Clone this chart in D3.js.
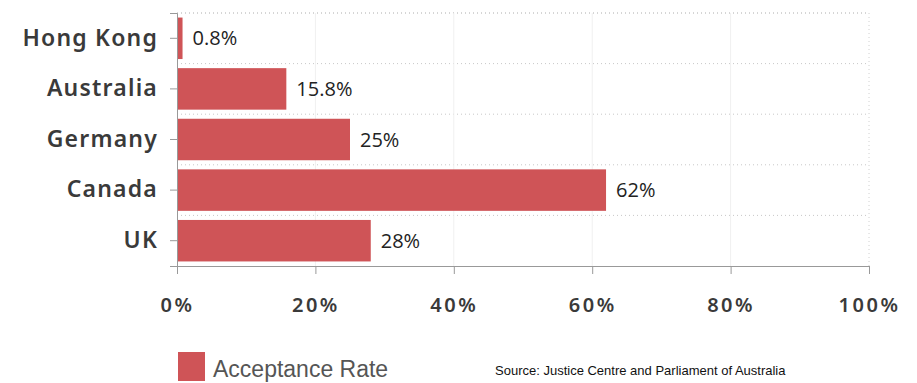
<!DOCTYPE html>
<html>
<head>
<meta charset="utf-8">
<script src="https://cdn.jsdelivr.net/npm/d3@7"></script>
<style>
  body { margin: 0; background: #fff; }
  svg { display: block; }
</style>
</head>
<body>
<svg id="chart"></svg>
<script>
// Acceptance rates by country
const countries = ['Hong Kong', 'Australia', 'Germany', 'Canada', 'UK'];
const rates = [0.8, 15.8, 25, 62, 28];
const rateLabels = ['0.8%', '15.8%', '25%', '62%', '28%'];
const xTicks = [0, 20, 40, 60, 80, 100];

const W = 917, H = 383;
const margin = { top: 13, right: 48, bottom: 117, left: 177 };
const width = W - margin.left - margin.right;
const height = H - margin.top - margin.bottom;

const svg = d3.select('#chart').attr('width', W).attr('height', H);
const g = svg.append('g').attr('transform', `translate(${margin.left}, ${margin.top})`);

const x = d3.scaleLinear().domain([0, 100]).range([0, width]);
const y = d3.scaleBand().domain(countries).range([0, height]).paddingInner(0.18).paddingOuter(0.09);

// dotted horizontal separators between bands
const step = y.step();
const seps = d3.range(countries.length).map(i => y(countries[i]) - y.paddingInner() * step / 2);
g.selectAll('.sep')
  .data(seps.concat([0]))
  .join('line')
  .attr('x1', 0).attr('x2', width)
  .attr('y1', d => d).attr('y2', d => d)
  .attr('stroke', '#c8c8c8')
  .attr('stroke-dasharray', '1,3');

// faint vertical gridlines
g.selectAll('.vgrid')
  .data(xTicks.slice(1))
  .join('line')
  .attr('x1', d => x(d)).attr('x2', d => x(d))
  .attr('y1', 0).attr('y2', height)
  .attr('stroke', d => d === 100 ? '#d0d0d0' : '#f0f0f0')
  .attr('stroke-dasharray', d => d === 100 ? '1,3' : null);

// bars
g.selectAll('.bar')
  .data(countries)
  .join('rect')
  .attr('x', 0)
  .attr('y', d => y(d))
  .attr('width', (d, i) => x(rates[i]))
  .attr('height', y.bandwidth())
  .attr('fill', '#cf5457');

// value labels
g.selectAll('.val')
  .data(countries)
  .join('text')
  .attr('x', (d, i) => x(rates[i]) + 10)
  .attr('y', d => y(d) + y.bandwidth() / 2)
  .attr('dy', '0.35em')
  .style('font-family', 'Open Sans, sans-serif')
  .style('font-size', '20px')
  .attr('fill', '#222')
  .text((d, i) => rateLabels[i]);

// y axis
const yAxis = g.append('g').call(d3.axisLeft(y).tickSize(7).tickPadding(12));
yAxis.select('.domain').attr('stroke', '#999');
yAxis.selectAll('.tick line').attr('stroke', '#999');
yAxis.selectAll('text')
  .style('font-family', 'Noto Sans, sans-serif')
  .style('font-weight', '600')
  .style('font-size', '23px')
  .style('letter-spacing', '1.2px')
  .attr('fill', '#3a3a3a');

// x axis
const xAxis = g.append('g')
  .attr('transform', `translate(0, ${height})`)
  .call(d3.axisBottom(x).tickValues(xTicks).tickFormat(d => d + '%').tickSize(8).tickPadding(24));
xAxis.select('.domain').attr('stroke', '#999');
xAxis.selectAll('.tick line').attr('stroke', '#999');
xAxis.selectAll('text')
  .style('font-family', 'Noto Sans, sans-serif')
  .style('font-weight', '600')
  .style('font-size', '20px')
  .style('letter-spacing', '2.5px')
  .attr('fill', '#3a3a3a');

// legend
svg.append('rect')
  .attr('x', 178).attr('y', 352)
  .attr('width', 27).attr('height', 29)
  .attr('fill', '#cf5457');
svg.append('text')
  .attr('x', 213).attr('y', 377)
  .style('font-family', 'Liberation Sans, Arial, sans-serif')
  .style('font-size', '23px')
  .attr('fill', '#555')
  .text('Acceptance Rate');

// source
svg.append('text')
  .attr('x', 495).attr('y', 375)
  .style('font-family', 'Liberation Sans, Arial, sans-serif')
  .style('font-size', '13px')
  .attr('fill', '#111')
  .text('Source: Justice Centre and Parliament of Australia');
</script>
</body>
</html>
